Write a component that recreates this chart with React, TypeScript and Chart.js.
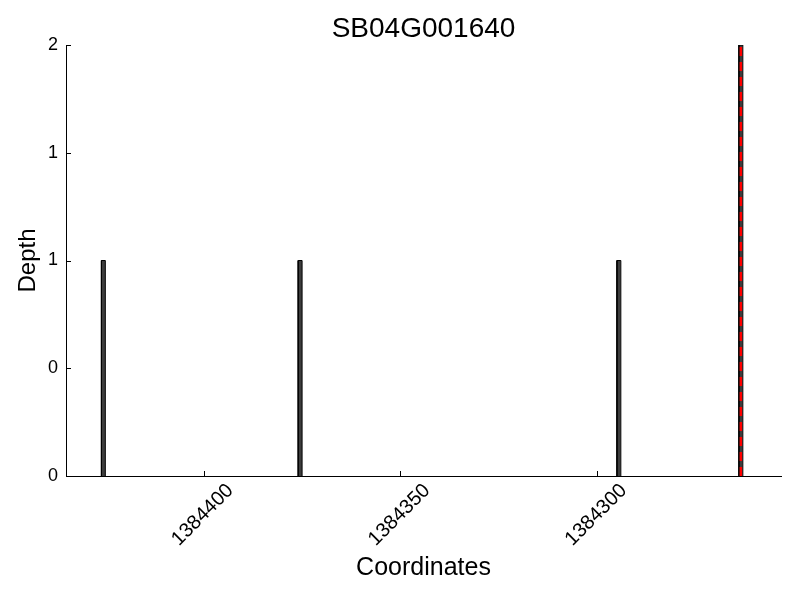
import React, { useEffect, useRef } from 'react';
import { Chart, registerables } from 'chart.js';

Chart.register(...registerables);

const chartTitle = 'SB04G001640';
const xAxisTitle = 'Coordinates';
const yAxisTitle = 'Depth';

// bars: start coordinate, width (bp) and depth
const barStarts = [1384425, 1384375, 1384294, 1384263];
const barWidths = [1, 1, 1, 1];
const barDepths = [1, 1, 1, 2];

// red dashed marker
const markerX = [1384263.5];
const markerDepth = [2];

const xTickValues = [1384400, 1384350, 1384300];
const xTickLabels = ['1384400', '1384350', '1384300'];
const yTickValues = [0, 0.5, 1, 1.5, 2];
const yTickLabels = ['0', '0', '1', '1', '2'];

const xMin = 1384253.3;
const xMax = 1384435.0;
const yMin = 0;
const yMax = 2;

const FONT = "'Liberation Sans', Arial, sans-serif";

const tickPlugin = {
  id: 'inwardTicks',
  afterDraw(chart: any) {
    const { ctx, chartArea, scales } = chart;
    const x = scales.x;
    const y = scales.y;
    ctx.save();
    ctx.strokeStyle = '#000';
    ctx.lineWidth = 1;
    ctx.beginPath();
    for (const v of xTickValues) {
      const px = Math.round(x.getPixelForValue(v)) + 0.5;
      ctx.moveTo(px, chartArea.bottom);
      ctx.lineTo(px, chartArea.bottom - 5);
    }
    for (const v of yTickValues) {
      const py = Math.round(y.getPixelForValue(v)) + 0.5;
      ctx.moveTo(chartArea.left, py);
      ctx.lineTo(chartArea.left + 5, py);
    }
    ctx.stroke();
    ctx.font = `20px ${FONT}`;
    ctx.fillStyle = '#000';
    ctx.textAlign = 'center';
    ctx.textBaseline = 'middle';
    xTickValues.forEach((v, i) => {
      const px = x.getPixelForValue(v);
      ctx.save();
      ctx.translate(px - 1, chartArea.bottom + 39);
      ctx.rotate(-Math.PI / 4);
      ctx.fillText(xTickLabels[i], 0, 0);
      ctx.restore();
    });
    ctx.restore();
  },
};

export default function App() {
  const canvasRef = useRef<HTMLCanvasElement | null>(null);

  useEffect(() => {
    if (!canvasRef.current) return;
    const barDatasets = barStarts.map((s, i) => ({
      label: `bar${i}`,
      data: [
        { x: s, y: 0 },
        { x: s, y: barDepths[i] },
        { x: s + barWidths[i], y: barDepths[i] },
        { x: s + barWidths[i], y: 0 },
      ],
      showLine: true,
      fill: 'origin',
      backgroundColor: '#3d3d3d',
      borderColor: '#000000',
      borderWidth: 1,
      pointRadius: 0,
      tension: 0,
      order: 1,
    }));
    const markerDatasets = markerX.map((m, i) => ({
      label: `marker${i}`,
      data: [
        { x: m, y: 0 },
        { x: m, y: markerDepth[i] },
      ],
      showLine: true,
      fill: false,
      borderColor: '#ff0000',
      borderWidth: 2.5,
      borderDash: [9, 6],
      borderCapStyle: 'butt',
      pointRadius: 0,
      order: 0,
    }));

    const chart = new Chart(canvasRef.current, {
      type: 'scatter',
      data: { datasets: [...barDatasets, ...markerDatasets] as any },
      options: {
        animation: false,
        responsive: false,
        layout: { padding: { left: 0, right: 19, top: 0, bottom: 0 } },
        plugins: {
          legend: { display: false },
          tooltip: { enabled: false },
          title: {
            display: true,
            fullSize: false,
            text: chartTitle,
            color: '#000',
            font: { family: FONT, size: 28, weight: 'normal' },
            padding: { top: 12.4, bottom: -1 },
          },
        },
        scales: {
          x: {
            type: 'linear',
            reverse: true,
            min: xMin,
            max: xMax,
            afterFit: (s: any) => {
              s.height = 124;
            },
            grid: { display: true, drawOnChartArea: false, drawTicks: false },
            border: { display: true, color: '#000', width: 1 },
            ticks: { display: false },
            title: {
              display: true,
              text: xAxisTitle,
              color: '#000',
              font: { family: FONT, size: 25 },
              padding: { top: 0, bottom: 17 },
            },
          },
          y: {
            type: 'linear',
            min: yMin,
            max: yMax,
            afterFit: (s: any) => {
              s.width = 66;
            },
            afterBuildTicks: (s: any) => {
              s.ticks = yTickValues.map((v) => ({ value: v }));
            },
            grid: { display: true, drawOnChartArea: false, drawTicks: false },
            border: { display: true, color: '#000', width: 1 },
            ticks: {
              color: '#000',
              font: { family: FONT, size: 18 },
              padding: 8,
              callback: (_v: any, idx: number) => yTickLabels[idx],
            },
            title: {
              display: true,
              text: yAxisTitle,
              color: '#000',
              font: { family: FONT, size: 24 },
              padding: { top: 14, bottom: 0 },
            },
          },
        },
      },
      plugins: [tickPlugin],
    });
    return () => chart.destroy();
  }, []);

  return (
    <div style={{ position: 'fixed', left: 0, top: 0, width: 800, height: 600, background: '#fff' }}>
      <canvas ref={canvasRef} width={800} height={600} style={{ width: 800, height: 600 }} />
    </div>
  );
}
